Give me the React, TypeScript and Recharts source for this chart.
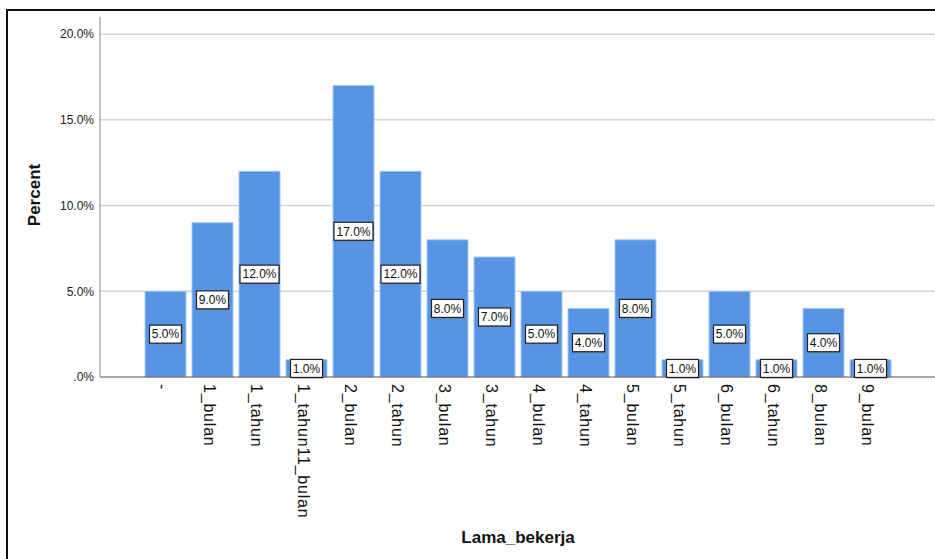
import { BarChart, Bar, XAxis, YAxis, CartesianGrid, LabelList } from "recharts";

const categories = [
  "-",
  "1_bulan",
  "1_tahun",
  "1_tahun11_bulan",
  "2_bulan",
  "2_tahun",
  "3_bulan",
  "3_tahun",
  "4_bulan",
  "4_tahun",
  "5_bulan",
  "5_tahun",
  "6_bulan",
  "6_tahun",
  "8_bulan",
  "9_bulan",
];
const percents = [5, 9, 12, 1, 17, 12, 8, 7, 5, 4, 8, 1, 5, 1, 4, 1];
const yTicks = [0, 5, 10, 15, 20];

const data = categories.map((name, i) => ({ name, percent: percents[i] }));

const FONT = "'Liberation Sans', Arial, sans-serif";

const fmtPct = (v: number) => (v === 0 ? ".0%" : v.toFixed(1) + "%");

// x tick: text rotated clockwise, reading top to bottom
const XTick = (props: any) => {
  const { x, y, payload } = props;
  return (
    <g transform={`translate(${x},${y})`}>
      <text
        transform="rotate(90)"
        x={0}
        y={9}
        textAnchor="start"
        fontSize={16}
        letterSpacing={0.8}
        fontFamily={FONT}
        fill="#111"
      >
        {payload.value}
      </text>
    </g>
  );
};

// boxed value label in the middle of the bar
const BoxLabel = (props: any) => {
  const { x, y, width, height, value } = props;
  const text = fmtPct(value);
  const w = text.length >= 5 ? 39 : 32;
  const h = 18;
  const cx = x + width / 2;
  const cy = y + height / 2;
  return (
    <g>
      <rect x={cx - w / 2 + 1} y={cy - h / 2 + 1} width={w} height={h} fill="#777" />
      <rect
        x={cx - w / 2}
        y={cy - h / 2}
        width={w}
        height={h}
        fill="#fff"
        stroke="#222"
        strokeWidth={1.2}
      />
      <text
        x={cx}
        y={cy}
        dy="0.36em"
        textAnchor="middle"
        fontSize={12}
        fontFamily={FONT}
        fill="#111"
      >
        {text}
      </text>
    </g>
  );
};

export default function App() {
  return (
    <div
      style={{
        position: "absolute",
        left: 0,
        top: 0,
        width: 935,
        height: 559,
        overflow: "hidden",
        background: "#fff",
      }}
    >
      {/* frame */}
      <div
        style={{
          position: "absolute",
          left: 6,
          top: 9,
          width: 1000,
          height: 1000,
          borderLeft: "2px solid #111",
          borderTop: "2px solid #111",
        }}
      />
      <div style={{ position: "absolute", left: 0, top: 0 }}>
        <BarChart
          width={935}
          height={559}
          data={data}
          margin={{ top: 17, right: 0, left: 0, bottom: 0 }}
          barCategoryGap={3}
        >
          <CartesianGrid
            vertical={false}
            stroke="#d2d2d2"
            strokeWidth={1.5}
            horizontalValues={[5, 10, 15, 20]}
          />
          <XAxis
            dataKey="name"
            interval={0}
            height={182}
            padding={{ left: 42, right: 41 }}
            tickLine={false}
            tickSize={0}
            tickMargin={7}
            axisLine={{ stroke: "#555", strokeWidth: 1.2 }}
            tick={<XTick />}
          />
          <YAxis
            width={100}
            domain={[0, 21]}
            ticks={yTicks}
            tickFormatter={fmtPct}
            tickLine={false}
            tickSize={0}
            tickMargin={6}
            axisLine={{ stroke: "#999", strokeWidth: 1.2 }}
            tick={{ fontSize: 12, fontFamily: FONT, fill: "#222" }}
          />
          <Bar
            dataKey="percent"
            fill="#5694e6"
            stroke="#a6c6f0"
            strokeWidth={1}
            isAnimationActive={false}
          >
            <LabelList dataKey="percent" content={<BoxLabel />} />
          </Bar>
        </BarChart>
      </div>
      {/* axis titles */}
      <div
        style={{
          position: "absolute",
          left: 35,
          top: 195,
          transform: "translate(-50%, -50%) rotate(-90deg)",
          fontFamily: FONT,
          fontWeight: "bold",
          fontSize: 17,
          color: "#111",
          whiteSpace: "nowrap",
        }}
      >
        Percent
      </div>
      <div
        style={{
          position: "absolute",
          left: 518,
          top: 538,
          transform: "translate(-50%, -50%)",
          fontFamily: FONT,
          fontWeight: "bold",
          fontSize: 17,
          color: "#111",
          whiteSpace: "nowrap",
        }}
      >
        Lama_bekerja
      </div>
    </div>
  );
}
